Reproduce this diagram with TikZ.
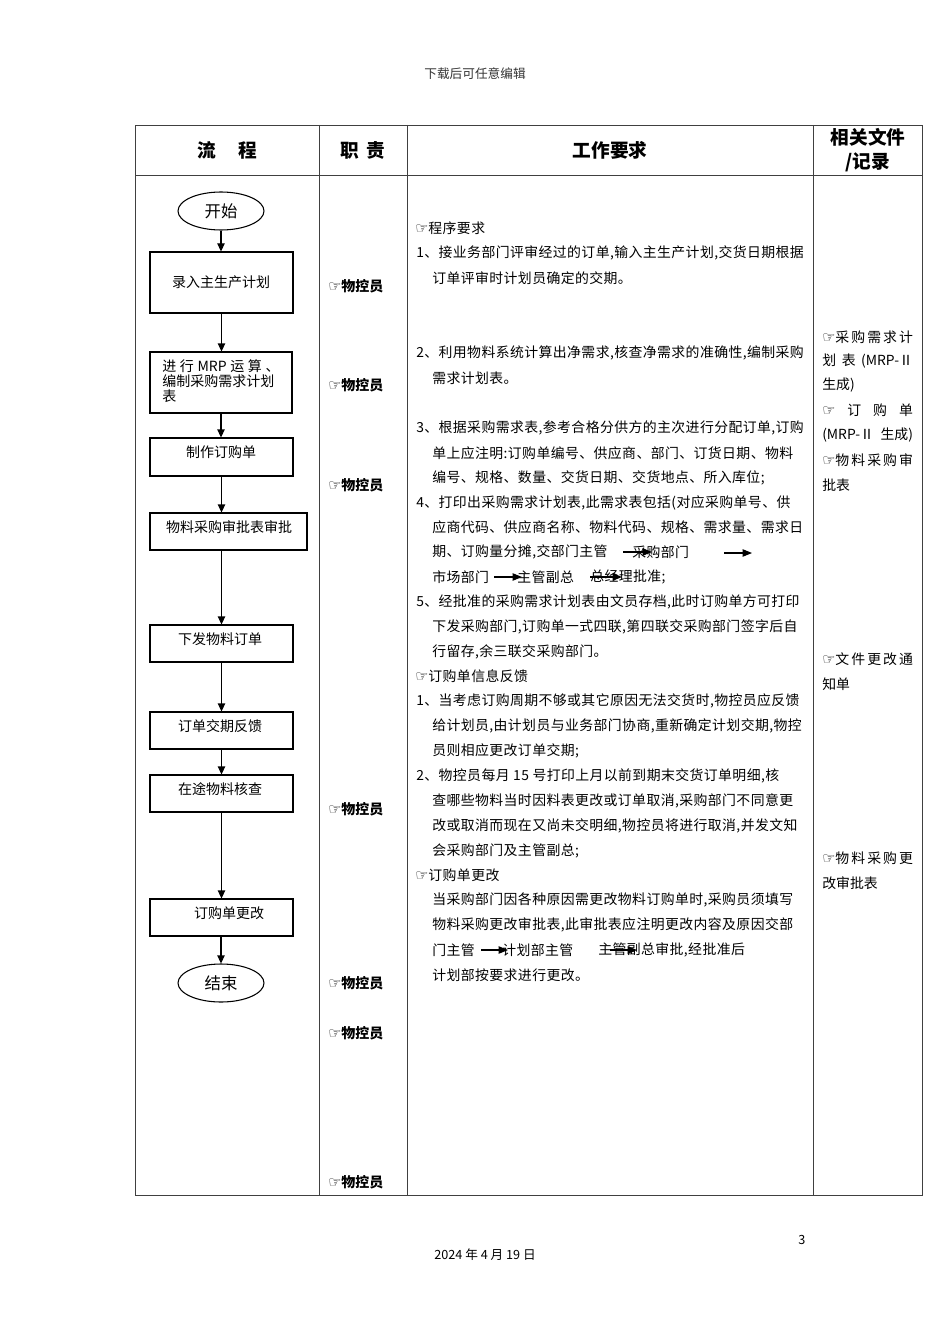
\documentclass[tikz,border=0pt]{standalone}
\usepackage{fontspec}
\setmainfont{Noto Sans CJK SC}
\newfontfamily\symf{DejaVu Sans}
\newfontfamily\bodyf[LetterSpace=3]{Noto Sans CJK SC}
\usetikzlibrary{arrows.meta,shapes.geometric}
\newcommand{\hand}{{\symf\fontsize{11pt}{11pt}\selectfont ☞}}
\newcommand{\fsz}[1]{\fontsize{#1}{#1}\selectfont}
\tikzset{
  tbl/.style={draw=black!75, line width=0.7pt},
  hdr/.style={inner sep=0pt, font=\fsz{14pt}\bfseries},
  box/.style={draw=black, line width=0.8pt, rectangle, inner sep=0pt},
  term/.style={draw=black, line width=0.8pt, ellipse, minimum width=64.5pt, minimum height=28.5pt, inner sep=0pt, font=\fsz{12.3pt}},
  ft/.style={inner sep=0pt, font=\fsz{10.5pt}},
  arr/.style={draw=black, line width=0.8pt, -{Triangle[length=6pt,width=5.5pt]}},
  iarr/.style={draw=black, line width=0.8pt, -{Triangle[length=7pt,width=5.5pt]}},
  role/.style={inner sep=0pt, anchor=west, font=\fsz{10.5pt}\bfseries},
  txt/.style={inner sep=0pt, anchor=west, font=\bodyf\fsz{10.4pt}},
  rtxt/.style={inner sep=0pt, anchor=west, font=\fsz{10.4pt}},
}
\begin{document}
\begin{tikzpicture}[x=0.75pt,y=-0.75pt]
\useasboundingbox (0,0) rectangle (950,1344);
\fill[white] (0,0) rectangle (950,1344);

% page header / footer
\node[inner sep=0pt, font=\fsz{9.5pt}, text=black!80] (top) at (475,74) {下载后可任意编辑};
\node[inner sep=0pt, font=\fsz{9.5pt}] (pg) at (802,1240) {3};
\node[inner sep=0pt, font=\fsz{9.5pt}] (date) at (485,1255) {2024 年 4 月 19 日};

% table
\draw[tbl] (135,125) rectangle (922,1195);
\draw[tbl] (135,175) -- (922,175);
\draw[tbl] (319,125) -- (319,1195);
\draw[tbl] (407,125) -- (407,1195);
\draw[tbl] (813,125) -- (813,1195);

\node[hdr] (h1) at (227,150) {流\hspace{1.2em}程};
\node[hdr] (h2) at (363,150) {职\hspace{0.4em}责};
\node[hdr] (h3) at (610,150) {工作要求};
\node[hdr, align=center, font=\fontsize{14pt}{18pt}\selectfont\bfseries] (h4) at (868,150) {相关文件\\/记录};

% flowchart
\node[term] (s) at (221,211) {开始};
\node[box, minimum width=107.25pt, minimum height=45.75pt] (b1) at (221.5,282.5) {};
\node[box, minimum width=106.5pt, minimum height=45.75pt] (b2) at (221,382.5) {};
\node[box, minimum width=107.25pt, minimum height=28.5pt] (b3) at (221.5,457) {};
\node[box, minimum width=117.75pt, minimum height=27.75pt] (b4) at (228.5,531.5) {};
\node[box, minimum width=107.25pt, minimum height=27.75pt] (b5) at (221.5,643.5) {};
\node[box, minimum width=107.25pt, minimum height=27.75pt] (b6) at (221.5,730.5) {};
\node[box, minimum width=107.25pt, minimum height=27.75pt] (b7) at (221.5,793.5) {};
\node[box, minimum width=107.25pt, minimum height=27.75pt] (b8) at (221.5,917.5) {};
\node[term] (e) at (221,983) {结束};

\node[ft] (t1) at (221,282) {录入主生产计划};
\node[ft, anchor=west, align=left, font=\fontsize{10.5pt}{11.25pt}\selectfont] (t2) at (162,381)
  {\makebox[88pt][s]{进\hfill 行\hfill MRP\hfill 运\hfill 算\hfill 、}\\编制采购需求计划\\表};
\node[ft] (t3) at (221,452) {制作订购单};
\node[ft] (t4) at (229,527) {物料采购审批表审批};
\node[ft] (t5) at (220,639) {下发物料订单};
\node[ft] (t6) at (220,726) {订单交期反馈};
\node[ft] (t7) at (220,789) {在途物料核查};
\node[ft] (t8) at (229,913) {订购单更改};

\draw[arr] (s.south) -- (s.south |- b1.north);
\draw[arr] (b1.south) -- (b1.south |- b2.north);
\draw[arr] (b2.south) -- (b2.south |- b3.north);
\draw[arr] (b3.south) -- (b3.south |- b4.north);
\draw[arr] (b3.south |- b4.south) -- (b3.south |- b5.north);
\draw[arr] (b5.south) -- (b5.south |- b6.north);
\draw[arr] (b6.south) -- (b6.south |- b7.north);
\draw[arr] (b7.south) -- (b7.south |- b8.north);
\draw[arr] (b8.south -| e) -- (e.north);

% role column
\node[role] (r1) at (328,286) {\hand 物控员};
\node[role] (r2) at (328,385) {\hand 物控员};
\node[role] (r3) at (328,485) {\hand 物控员};
\node[role] (r4) at (328,809) {\hand 物控员};
\node[role] (r5) at (328,983) {\hand 物控员};
\node[role] (r6) at (328,1033) {\hand 物控员};
\node[role] (r7) at (328,1182) {\hand 物控员};

% work requirements column
\node[txt] (w1) at (415,228) {\hand 程序要求};
\node[txt] (w2) at (416,253) {1、接业务部门评审经过的订单,输入主生产计划,交货日期根据};
\node[txt] (w3) at (432,278) {订单评审时计划员确定的交期。};
\node[txt] (w4) at (416,353) {2、利用物料系统计算出净需求,核查净需求的准确性,编制采购};
\node[txt] (w5) at (432,378) {需求计划表。};
\node[txt] (w6) at (416,428) {3、根据采购需求表,参考合格分供方的主次进行分配订单,订购};
\node[txt] (w7) at (432,453) {单上应注明:订购单编号、供应商、部门、订货日期、物料};
\node[txt] (w8) at (432,478) {编号、规格、数量、交货日期、交货地点、所入库位;};
\node[txt] (w9) at (416,503) {4、打印出采购需求计划表,此需求表包括(对应采购单号、供};
\node[txt] (w10) at (432,527) {应商代码、供应商名称、物料代码、规格、需求量、需求日};
\node[txt] (w11a) at (432,552) {期、订购量分摊,交部门主管};
\node[txt] (w11b) at (632,552) {采购部门};
\node[txt] (w12a) at (432,577) {市场部门};
\node[txt] (w12b) at (517,577) {主管副总};
\node[txt] (w12c) at (590,577) {总经理批准;};
\node[txt] (w13) at (416,602) {5、经批准的采购需求计划表由文员存档,此时订购单方可打印};
\node[txt] (w14) at (432,627) {下发采购部门,订购单一式四联,第四联交采购部门签字后自};
\node[txt] (w15) at (432,652) {行留存,余三联交采购部门。};
\node[txt] (w16) at (415,676) {\hand 订购单信息反馈};
\node[txt] (w17) at (416,701) {1、当考虑订购周期不够或其它原因无法交货时,物控员应反馈};
\node[txt] (w18) at (432,726) {给计划员,由计划员与业务部门协商,重新确定计划交期,物控};
\node[txt] (w19) at (432,751) {员则相应更改订单交期;};
\node[txt] (w20) at (416,776) {2、物控员每月 15 号打印上月以前到期末交货订单明细,核};
\node[txt] (w21) at (432,801) {查哪些物料当时因料表更改或订单取消,采购部门不同意更};
\node[txt] (w22) at (432,826) {改或取消而现在又尚未交明细,物控员将进行取消,并发文知};
\node[txt] (w23) at (432,851) {会采购部门及主管副总;};
\node[txt] (w24) at (415,875) {\hand 订购单更改};
\node[txt] (w25) at (432,900) {当采购部门因各种原因需更改物料订购单时,采购员须填写};
\node[txt] (w26) at (432,925) {物料采购更改审批表,此审批表应注明更改内容及原因交部};
\node[txt] (w27a) at (432,950) {门主管};
\node[txt] (w27b) at (502,950) {计划部主管};
\node[txt] (w27c) at (598,950) {主管副总审批,经批准后};
\node[txt] (w28) at (432,975) {计划部按要求进行更改。};

% inline arrows
\draw[iarr] (623,552) -- (652,552);
\draw[iarr] (724,553) -- (752,553);
\draw[iarr] (494,577) -- (522,577);
\draw[iarr] (590,577) -- (622,577);
\draw[iarr] (481,950) -- (508,950);
\draw[iarr] (610,950) -- (637,950);

% records column
\node[rtxt] (d1) at (822,337) {\makebox[68pt][s]{\hand 采\hfill 购\hfill 需\hfill 求\hfill 计}};
\node[rtxt] (d2) at (822,361) {\makebox[68pt][s]{划\hfill 表\hfill (MRP-Ⅱ}};
\node[rtxt] (d3) at (822,385) {生成)};
\node[rtxt] (d4) at (822,410) {\makebox[68pt][s]{\hand\hfill 订\hfill 购\hfill 单}};
\node[rtxt] (d5) at (822,435) {\makebox[68pt][s]{(MRP-Ⅱ\hfill 生成)}};
\node[rtxt] (d6) at (822,460) {\makebox[68pt][s]{\hand 物\hfill 料\hfill 采\hfill 购\hfill 审}};
\node[rtxt] (d7) at (822,485) {批表};
\node[rtxt] (d8) at (822,659) {\makebox[68pt][s]{\hand 文\hfill 件\hfill 更\hfill 改\hfill 通}};
\node[rtxt] (d9) at (822,684) {知单};
\node[rtxt] (d10) at (822,858) {\makebox[68pt][s]{\hand 物\hfill 料\hfill 采\hfill 购\hfill 更}};
\node[rtxt] (d11) at (822,883) {改审批表};
\end{tikzpicture}
\end{document}
